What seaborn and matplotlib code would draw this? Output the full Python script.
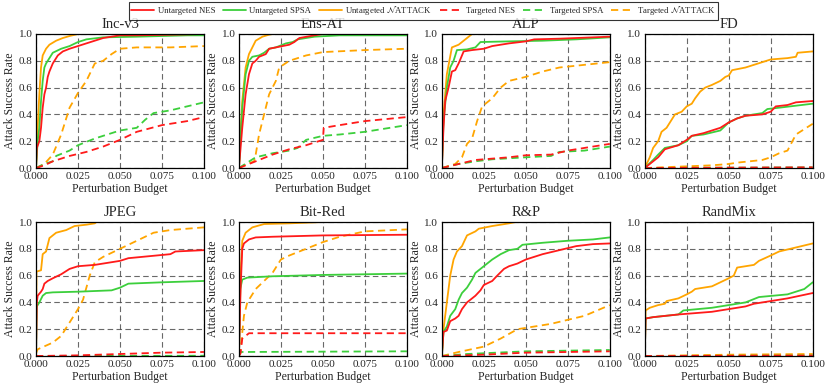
import matplotlib
matplotlib.use("Agg")
import matplotlib.pyplot as plt
import seaborn as sns
import pandas as pd
from matplotlib.ticker import FormatStrFormatter

# panel names (reading order)
panels = ["Inc-v3", "Ens-AT", "ALP", "FD", "JPEG", "Bit-Red", "R&P", "RandMix"]

series_labels = [
    r"Untargeted NES", r"Untargeted SPSA", r"Untargeted $\mathcal{N}$ATTACK",
    r"Targeted NES", r"Targeted SPSA", r"Targeted $\mathcal{N}$ATTACK",
]
series_colors = ["#ff1a1a", "#3ccf3c", "#ffa500", "#ff1a1a", "#3ccf3c", "#ffa500"]

# each panel: series label index -> (budget, success rate)
incv3 = {
    0: ([0, .0005, .002, .003, .004, .005, .006, .007, .008, .01, .013, .016, .02, .025, .03, .035, .04, .045, .05, .06, .1],
        [0, .15, .2, .3, .45, .55, .6, .68, .72, .78, .84, .87, .89, .91, .93, .95, .97, .98, .99, .99, 1.0]),
    1: ([0, .001, .002, .003, .004, .005, .006, .008, .01, .015, .02, .025, .03, .04, .06, .09, .1],
        [0, .2, .3, .5, .65, .75, .78, .82, .86, .89, .91, .94, .96, .975, .98, .99, .99]),
    2: ([0, .001, .002, .003, .004, .006, .008, .012, .016, .02, .025],
        [0, .3, .55, .75, .84, .89, .92, .95, .97, .985, 1.0]),
    3: ([0, .005, .01, .02, .03, .04, .05, .06, .075, .09, .1],
        [0, .02, .05, .09, .12, .16, .21, .27, .32, .35, .38]),
    4: ([0, .005, .01, .012, .02, .025, .035, .05, .06, .065, .07, .08, .09, .1],
        [0, .03, .05, .09, .13, .17, .22, .28, .3, .36, .41, .43, .46, .49]),
    5: ([0, .005, .01, .015, .02, .025, .03, .035, .04, .045, .05, .06, .08, .1],
        [0, .03, .1, .25, .45, .56, .65, .78, .8, .85, .89, .9, .9, .91]),
}
ensat = {
    0: ([0, .002, .004, .006, .008, .01, .012, .016, .018, .022, .03, .033, .036, .045, .05, .1],
        [0, .3, .55, .7, .78, .8, .83, .85, .89, .9, .92, .94, .97, .99, 1.0, 1.0]),
    1: ([0, .002, .004, .006, .008, .012, .015, .018, .022, .028, .032, .035, .045, .06, .1],
        [0, .45, .7, .8, .83, .84, .86, .89, .9, .93, .94, .96, .98, .99, .99]),
    2: ([0, .002, .004, .006, .008, .01, .014, .018, .02],
        [0, .5, .75, .85, .9, .95, .98, .995, 1.0]),
    3: ([0, .01, .02, .03, .04, .05, .0505, .06, .075, .1],
        [0, .05, .1, .14, .17, .21, .3, .32, .35, .38]),
    4: ([0, .01, .02, .03, .035, .04, .05, .06, .075, .1],
        [0, .08, .11, .13, .15, .21, .24, .25, .27, .32]),
    5: ([0, .005, .009, .01, .012, .015, .018, .022, .024, .03, .04, .05, .075, .1],
        [0, .03, .05, .1, .25, .4, .55, .65, .75, .8, .84, .865, .88, .89]),
}
alp = {
    0: ([0, .001, .002, .004, .006, .008, .01, .013, .018, .025, .03, .04, .05, .055, .07, .1],
        [0, .3, .5, .6, .72, .73, .78, .87, .88, .89, .91, .93, .945, .96, .965, .98]),
    1: ([0, .001, .003, .005, .007, .009, .015, .02, .023, .04, .06, .08, .1],
        [0, .35, .6, .75, .8, .88, .885, .9, .94, .945, .95, .96, .975]),
    2: ([0, .001, .003, .006, .01, .014, .018],
        [0, .4, .7, .9, .92, .96, 1.0]),
    3: ([0, .01, .02, .03, .04, .05, .065, .075, .085, .1],
        [0, .03, .06, .07, .08, .095, .1, .13, .15, .18]),
    4: ([0, .01, .02, .03, .05, .065, .07, .085, .1],
        [0, .03, .05, .065, .08, .09, .12, .13, .16]),
    5: ([0, .008, .012, .015, .018, .021, .024, .03, .035, .04, .05, .06, .07, .085, .1],
        [0, .03, .08, .18, .22, .35, .46, .52, .6, .65, .68, .72, .75, .77, .79]),
}
fd = {
    0: ([0, .005, .008, .012, .02, .025, .028, .035, .04, .045, .05, .055, .06, .07, .075, .078, .085, .09, .1],
        [0, .05, .08, .14, .17, .21, .24, .26, .28, .3, .34, .37, .39, .4, .42, .46, .47, .49, .5]),
    1: ([0, .005, .008, .012, .02, .025, .028, .035, .04, .045, .05, .055, .06, .07, .073, .08, .09, .1],
        [0, .06, .1, .15, .17, .2, .24, .25, .265, .28, .34, .37, .39, .41, .44, .45, .465, .48]),
    2: ([0, .003, .005, .008, .01, .013, .016, .018, .022, .025, .028, .03, .033, .036, .04, .045, .048, .05,
         .052, .06, .065, .07, .075, .085, .09, .091, .1],
        [0, .08, .15, .2, .27, .3, .36, .4, .42, .46, .48, .52, .57, .6, .62, .65, .68, .69,
         .73, .75, .77, .79, .81, .82, .83, .86, .87]),
    3: ([0, .1], [0, .005]),
    4: ([0, .1], [0, .005]),
    5: ([0, .02, .04, .05, .055, .07, .075, .08, .085, .09, .1],
        [0, .01, .02, .03, .04, .06, .08, .11, .13, .25, .33]),
}
jpeg = {
    0: ([0, .0005, .001, .003, .004, .005, .007, .01, .015, .02, .025, .035, .05, .055, .08, .083, .1],
        [0, .4, .45, .48, .5, .54, .56, .58, .61, .65, .67, .68, .71, .73, .76, .78, .79]),
    1: ([0, .0005, .002, .004, .006, .01, .025, .045, .05, .055, .075, .1],
        [0, .37, .4, .45, .47, .475, .48, .49, .51, .54, .55, .56]),
    2: ([0, .0003, .003, .004, .006, .008, .012, .018, .023, .03, .035, .036],
        [0, .63, .64, .76, .78, .88, .92, .94, .97, .98, .99, 1.0]),
    3: ([0, .025, .05, .075, .1], [0, .005, .015, .025, .03]),
    4: ([0, .1], [0, .002]),
    5: ([0, .001, .01, .015, .02, .025, .028, .032, .035, .04, .05, .06, .07, .08, .1],
        [.02, .05, .1, .15, .25, .35, .42, .6, .7, .74, .8, .86, .92, .94, .96]),
}
bitred = {
    0: ([0, .001, .002, .003, .006, .01, .02, .05, .1],
        [0, .5, .8, .84, .87, .885, .89, .9, .905]),
    1: ([0, .0008, .002, .005, .02, .05, .1],
        [0, .5, .57, .585, .595, .605, .615]),
    2: ([0, .001, .002, .004, .008, .015, .03, .05],
        [0, .6, .86, .92, .96, .985, .99, 1.0]),
    3: ([0, .001, .002, .004, .006, .1], [0, .02, .13, .15, .17, .17]),
    4: ([0, .001, .1], [0, .03, .035]),
    5: ([0, .001, .003, .005, .01, .015, .02, .025, .03, .04, .05, .06, .075, .1],
        [0, .05, .3, .4, .5, .56, .62, .72, .75, .8, .85, .89, .93, .945]),
}
rp = {
    0: ([0, .001, .003, .005, .008, .01, .012, .015, .018, .02, .023, .025, .03, .033, .037, .04, .045, .05,
         .055, .06, .07, .08, .09, .1],
        [0, .18, .19, .26, .28, .3, .35, .4, .43, .45, .49, .53, .56, .6, .65, .67, .69, .72,
         .74, .76, .79, .82, .835, .84]),
    1: ([0, .001, .003, .005, .008, .01, .012, .015, .018, .02, .025, .03, .035, .04, .045, .048, .06, .075, .09, .1],
        [0, .18, .22, .3, .35, .42, .47, .51, .57, .62, .67, .72, .76, .79, .8, .83, .845, .86, .87, .885]),
    2: ([0, .001, .003, .005, .007, .009, .012, .015, .02, .022, .03, .04, .044],
        [0, .2, .4, .6, .72, .78, .82, .9, .93, .95, .97, .99, 1.0]),
    3: ([0, .025, .05, .075, .1], [0, .01, .025, .03, .035]),
    4: ([0, .015, .05, .075, .1], [0, .015, .035, .04, .045]),
    5: ([0, .01, .025, .035, .045, .055, .065, .075, .085, .1],
        [0, .03, .07, .13, .2, .22, .24, .27, .3, .38]),
}
randmix = {
    0: ([0, .0005, .005, .02, .04, .05, .06, .065, .075, .085, .1],
        [0, .28, .29, .31, .33, .35, .37, .39, .41, .43, .47]),
    1: ([0, .0005, .005, .02, .023, .04, .05, .06, .068, .085, .095, .1],
        [0, .28, .29, .31, .34, .36, .38, .4, .44, .46, .5, .55]),
    2: ([0, .0005, .003, .008, .012, .013, .02, .025, .028, .03, .04, .045, .05, .053, .055, .065, .068, .075,
         .08, .09, .1],
        [0, .34, .36, .38, .39, .41, .43, .46, .48, .5, .52, .55, .58, .6, .66, .68, .71, .75,
         .78, .81, .84]),
    3: ([0, .1], [0, .003]),
    4: ([0, .1], [0, .003]),
    5: ([0, .05, .1], [0, .01, .015]),
}
panel_data = [incv3, ensat, alp, fd, jpeg, bitred, rp, randmix]

sns.set_style("white")
plt.rcParams["font.family"] = ["Liberation Serif", "DejaVu Serif"]
plt.rcParams["mathtext.fontset"] = "stix"

fig, axes = plt.subplots(2, 4, figsize=(8.31, 3.89), dpi=100)
fig.subplots_adjust(left=0.0433, right=0.978, top=0.9126, bottom=0.0848, wspace=0.208, hspace=0.403)

for ax, name, data in zip(axes.flat, panels, panel_data):
    # draw targeted first so the solid lines sit on top
    for i in [5, 4, 3, 2, 1, 0]:
        xs, ys = data[i]
        df = pd.DataFrame({"budget": xs, "rate": ys})
        sns.lineplot(data=df, x="budget", y="rate", ax=ax, color=series_colors[i],
                     linewidth=1.3, estimator=None, sort=False,
                     linestyle="-" if i < 3 else (0, (4, 2.5)), label=series_labels[i])
    ax.set_xlim(0, 0.1)
    ax.set_ylim(0, 1.0)
    ax.set_xticks([0, 0.025, 0.05, 0.075, 0.1])
    ax.set_yticks([0, 0.2, 0.4, 0.6, 0.8, 1.0])
    ax.xaxis.set_major_formatter(FormatStrFormatter("%.3f"))
    ax.yaxis.set_major_formatter(FormatStrFormatter("%.1f"))
    ax.tick_params(labelsize=8, length=0)
    ax.tick_params(axis="x", pad=3)
    ax.tick_params(axis="y", pad=2.5)
    ax.grid(True, color="#444444", linestyle=(0, (5, 3)), linewidth=0.8, alpha=0.8)
    ax.set_axisbelow(True)
    for s in ax.spines.values():
        s.set_color("black")
        s.set_linewidth(0.9)
    ax.set_title(name, fontsize=10.5, pad=4)
    ax.set_xlabel("Perturbation Budget", fontsize=8.5, labelpad=1)
    ax.set_ylabel("Attack Success Rate", fontsize=8.5, labelpad=2)
    leg = ax.get_legend()
    if leg is not None:
        leg.remove()

handles, labels = axes.flat[0].get_legend_handles_labels()
order = {lab: h for h, lab in zip(handles, labels)}
handles = [order[lab] for lab in series_labels]
leg = fig.legend(handles, series_labels, loc="center", bbox_to_anchor=(0.51, 0.972), ncol=6,
                 fontsize=6.3, frameon=True, fancybox=False, edgecolor="black",
                 borderpad=0.25, handlelength=2.6, columnspacing=0.9, handletextpad=0.4)
leg.get_frame().set_linewidth(0.8)

fig.savefig("out.png", dpi=100)
